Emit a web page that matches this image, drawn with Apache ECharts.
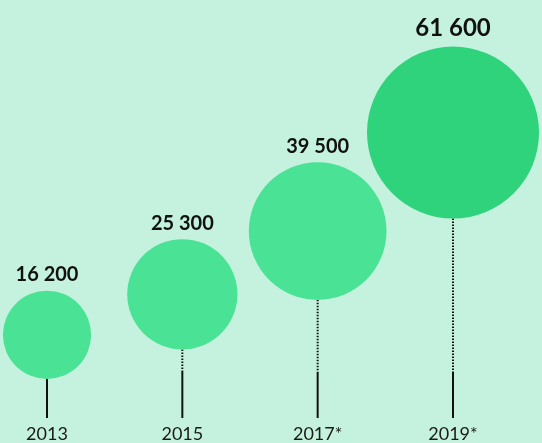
<!DOCTYPE html>
<html>
<head>
<meta charset="utf-8">
<script src="https://cdn.jsdelivr.net/npm/echarts@6/dist/echarts.min.js"></script>
<style>
html,body{margin:0;padding:0;background:#c5f2de;}
#chart{width:542px;height:443px;}
</style>
</head>
<body>
<div id="chart"></div>
<script>
// Data
const years = ['2013', '2015', '2017*', '2019*'];
const counts = [16200, 25300, 39500, 61600];

// Styles
const BG = '#c5f2de';
const LIGHT = '#4ae396';
const DARK = '#2ed37b';
const SIZE_K = 0.693;          // diameter = SIZE_K * sqrt(value)
const AXIS_OFFSET = 11;
const STEM_LEN = 46;

function fmt(v) {
  return String(v).replace(/\B(?=(\d{3})+(?!\d))/g, ' ');
}

const chart = echarts.init(document.getElementById('chart'));
const points = counts.map((v, i) => [i, v]);
const lastIdx = counts.length - 1;

chart.setOption({
  backgroundColor: BG,
  animation: false,
  grid: { left: 47, right: 89, top: 6, bottom: 36 },
  xAxis: {
    type: 'category',
    data: years,
    boundaryGap: false,
    offset: AXIS_OFFSET,
    axisLine: { show: false },
    axisTick: { show: false },
    axisLabel: { margin: 7, fontSize: 18, color: '#1a1a1a', fontFamily: 'Lato' },
    splitLine: { show: false }
  },
  yAxis: {
    type: 'value', min: 0, max: 90000, show: false, splitLine: { show: false }
  },
  series: [
    {
      type: 'custom',
      z: 1,
      data: points,
      renderItem: function (params, api) {
        const x = api.value(0), v = api.value(1);
        const c = api.coord([x, v]);
        const r = SIZE_K * Math.sqrt(v) / 2;
        const base = api.coord([x, 0])[1];
        const bottom = base + AXIS_OFFSET;
        const top = bottom - STEM_LEN;
        const y1 = c[1] + r;
        const children = [{
          type: 'line',
          shape: { x1: c[0], y1: top, x2: c[0], y2: bottom },
          style: { stroke: '#111', lineWidth: 2 }
        }];
        if (y1 < top) {
          children.push({
            type: 'line',
            shape: { x1: c[0], y1: y1, x2: c[0], y2: top },
            style: { stroke: '#111', lineWidth: 2, lineDash: [1.5, 1.5] }
          });
        }
        return { type: 'group', children: children };
      }
    },
    {
      type: 'scatter',
      z: 2,
      data: points,
      symbol: 'circle',
      symbolSize: function (val) { return SIZE_K * Math.sqrt(val[1]); },
      itemStyle: {
        opacity: 1,
        color: function (p) { return p.dataIndex === lastIdx ? DARK : LIGHT; }
      },
      label: {
        show: true,
        position: 'top',
        distance: 6,
        formatter: function (p) {
          return (p.dataIndex === lastIdx ? '{big|' : '{norm|') + fmt(p.value[1]) + '}';
        },
        rich: {
          norm: { fontSize: 20, fontWeight: 'bold', color: '#111', fontFamily: 'Lato' },
          big: { fontSize: 24, fontWeight: 'bold', color: '#111', fontFamily: 'Lato' }
        }
      }
    }
  ]
});
</script>
</body>
</html>
